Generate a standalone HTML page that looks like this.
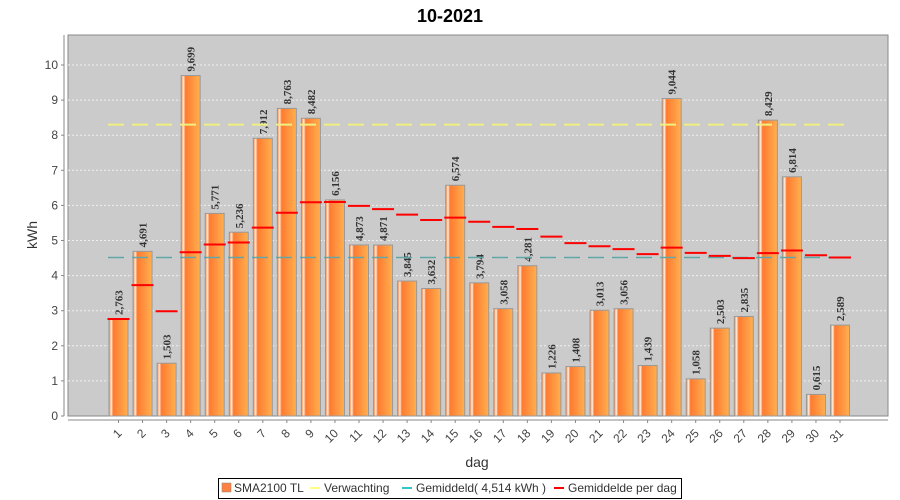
<!DOCTYPE html>
<html><head><meta charset="utf-8"><style>
body{margin:0;background:#fff;width:900px;height:500px;overflow:hidden}
svg{display:block}
</style></head><body>
<svg id="s" width="900" height="500" xmlns="http://www.w3.org/2000/svg">
<defs>
<linearGradient id="g" x1="0" x2="1" y1="0" y2="0">
<stop offset="0" stop-color="#ff7a30"/><stop offset="0.12" stop-color="#fff0e0"/><stop offset="0.22" stop-color="#ff7a30"/><stop offset="1" stop-color="#ffb050"/>
</linearGradient>
</defs>
<text x="450" y="22" text-anchor="middle" font-family="Liberation Sans, sans-serif" font-weight="bold" font-size="18">10-2021</text>
<rect x="68" y="35" width="820" height="381" fill="#cbcbcb" stroke="#888" stroke-width="1"/>
<g id="c"></g>
<text transform="translate(37,235) rotate(-90)" text-anchor="middle" font-family="Liberation Sans, sans-serif" font-size="14" fill="#333">kWh</text>
<text x="477" y="467" text-anchor="middle" font-family="Liberation Sans, sans-serif" font-size="14" fill="#333">dag</text>
<rect x="218.5" y="478.5" width="463" height="20" fill="#fff" stroke="#000"/>
<g font-family="Liberation Sans, sans-serif" font-size="12" fill="#333">
<rect x="222" y="483" width="9" height="9" fill="#ff8040" stroke="#888" stroke-width="0.5"/>
<text x="234" y="492">SMA2100 TL</text>
<line x1="310" y1="488" x2="320" y2="488" stroke="#ffff80" stroke-width="2"/>
<text x="324" y="492">Verwachting</text>
<line x1="402" y1="488" x2="412" y2="488" stroke="#30c8c8" stroke-width="2"/>
<text x="416" y="492">Gemiddeld( 4,514 kWh )</text>
<line x1="554" y1="488" x2="564" y2="488" stroke="#ff0000" stroke-width="2"/>
<text x="568" y="492">Gemiddelde per dag</text>
</g>
</svg>
<script>
var d=[2.763,4.691,1.503,9.699,5.771,5.236,7.912,8.763,8.482,6.156,4.873,4.871,3.845,3.632,6.574,3.794,3.058,4.281,1.226,1.408,3.013,3.056,1.439,9.044,1.058,2.503,2.835,8.429,6.814,0.615,2.589];
var h='',Y=function(v){return 416-v*35.1};
for(var i=0;i<=10;i++){var y=Y(i);
 if(i>0)h+='<line x1="68" x2="888" y1="'+y+'" y2="'+y+'" stroke="#f0f0f0" stroke-dasharray="2,2"/>';
 h+='<line x1="61" x2="64" y1="'+y+'" y2="'+y+'" stroke="#888"/><text x="58" y="'+(y+4)+'" text-anchor="end" font-family="Liberation Sans, sans-serif" font-size="12" fill="#444">'+i+'</text>';}
h+='<line x1="64" x2="64" y1="35" y2="416" stroke="#888"/><line x1="68" x2="888" y1="420" y2="420" stroke="#888"/>';
var s=0;
for(i=0;i<31;i++){var cx=118.5+i*24.05,t=Y(d[i]);
 h+='<rect x="'+(cx-9.5)+'" y="'+t+'" width="19" height="'+(416-t)+'" fill="url(#g)" stroke="#999" stroke-width="1"/>';
 h+='<text transform="translate('+(cx+4)+','+(t-4)+') rotate(-90)" font-family="Liberation Serif, serif" font-weight="bold" font-size="11" fill="#333">'+d[i].toFixed(3).replace('.',',')+'</text>';
 h+='<line x1="'+cx+'" x2="'+cx+'" y1="420" y2="423" stroke="#888"/>';
 h+='<text transform="translate('+(cx+4)+',434) rotate(-45)" text-anchor="end" font-family="Liberation Sans, sans-serif" font-size="12" fill="#444">'+(i+1)+'</text>';}
h+='<line x1="108" x2="850" y1="'+Y(8.3)+'" y2="'+Y(8.3)+'" stroke="#f0f080" stroke-width="2" stroke-dasharray="16,8"/>';
h+='<line x1="108" x2="850" y1="'+Y(4.514)+'" y2="'+Y(4.514)+'" stroke="#60a8a8" stroke-width="1.5" stroke-dasharray="16,8"/>';
for(i=0;i<31;i++){s+=d[i];var cx=118.5+i*24.05,a=Y(s/(i+1));
 h+='<line x1="'+(cx-11)+'" x2="'+(cx+11)+'" y1="'+a+'" y2="'+a+'" stroke="#ff0000" stroke-width="2"/>';}
document.getElementById('c').innerHTML=h;
</script>
</body></html>
